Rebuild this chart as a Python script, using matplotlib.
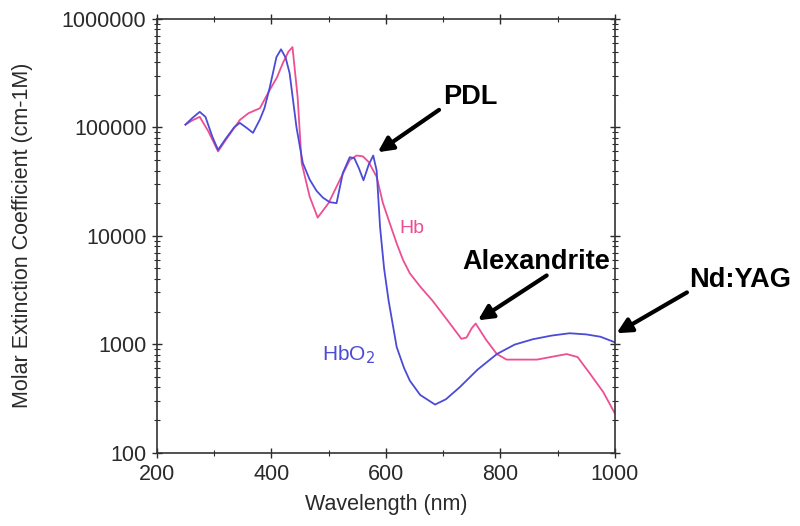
import matplotlib
matplotlib.use('Agg')
import matplotlib.pyplot as plt
from matplotlib.ticker import FixedLocator, FuncFormatter, MultipleLocator, LogLocator

plt.rcParams['font.family'] = ['Liberation Sans', 'DejaVu Sans']

# HbO2 (oxyhaemoglobin), wavelength in nm and molar extinction
hbo2_wl = [250, 262, 275, 285, 297, 307, 320, 335, 345, 358, 368, 380, 388, 397, 409,
           417, 425, 432, 444, 455, 467, 479, 490, 502, 514, 525, 537, 545, 553, 561,
           570, 578, 584, 590, 597, 605, 619, 632, 642, 660, 686, 705, 729, 760, 794,
           825, 857, 890, 921, 950, 975, 1000]
hbo2_val = [106000, 122000, 139000, 125000, 82000, 62000, 78000, 100000, 110000, 98000,
            89000, 118000, 150000, 230000, 445000, 525000, 440000, 316000, 100000, 47000,
            33000, 26000, 22500, 20400, 20000, 38000, 53000, 52000, 42000, 32500,
            45000, 55000, 40000, 12000, 5000, 2500, 940, 600, 460, 340, 277, 310, 400,
            580, 810, 990, 1110, 1200, 1260, 1230, 1170, 1040]

# Hb (deoxyhaemoglobin)
hb_wl = [250, 262, 275, 290, 307, 320, 345, 360, 380, 397, 410, 420, 430, 437, 446,
         453, 467, 481, 500, 520, 537, 549, 560, 570, 584, 595, 607, 619, 630, 642, 660,
         682, 710, 732, 741, 750, 757, 775, 794, 811, 864, 916, 935, 956, 980, 1000]
hb_val = [106000, 116000, 125000, 92000, 60000, 76000, 117000, 135000, 150000, 220000,
          290000, 390000, 500000, 550000, 190000, 47000, 23000, 14700, 20000, 33000,
          50000, 55000, 54000, 48000, 35000, 20000, 13000, 8500, 6000, 4500, 3400,
          2500, 1600, 1120, 1150, 1400, 1550, 1100, 810, 720, 720, 810, 760, 540, 360, 230]

y_ticks = [100, 1000, 10000, 100000, 1000000]
x_ticks = [200, 400, 600, 800, 1000]

blue = '#4b4bd6'
pink = '#ec4f92'
txt = '#2a2a2a'

fig = plt.figure(figsize=(8, 5.26), dpi=100)
ax = fig.add_axes([0.196, 0.1397, 0.5725, 0.8242])

ax.plot(hb_wl, hb_val, color=pink, lw=1.3)
ax.plot(hbo2_wl, hbo2_val, color=blue, lw=1.3)

ax.set_yscale('log')
ax.set_xlim(200, 1000)
ax.set_ylim(100, 1000000)
ax.xaxis.set_major_locator(FixedLocator(x_ticks))
ax.xaxis.set_minor_locator(MultipleLocator(100))
ax.yaxis.set_major_locator(FixedLocator(y_ticks))
ax.yaxis.set_minor_locator(LogLocator(base=10, subs=range(2, 10)))
ax.yaxis.set_major_formatter(FuncFormatter(lambda v, p: '%d' % v))
ax.yaxis.set_minor_formatter(FuncFormatter(lambda v, p: ''))

ax.tick_params(which='both', direction='inout', top=True, right=True,
               labelsize=15.5, colors=txt)
ax.tick_params(axis='y', pad=4)
ax.tick_params(axis='x', pad=5)
ax.tick_params(which='major', length=7, width=1)
ax.tick_params(which='minor', length=4, width=0.8)
for s in ax.spines.values():
    s.set_color('#333333')
    s.set_linewidth(1.2)

ax.set_xlabel('Wavelength (nm)', fontsize=15.5, color=txt, labelpad=6)
ax.set_ylabel('Molar Extinction Coefficient (cm-1M)', fontsize=15.5, color=txt, labelpad=21)

ax.text(645, 11700, 'Hb', color=pink, fontsize=14, ha='center', va='center')
ax.text(534, 800, 'HbO$_2$', color=blue, fontsize=15, ha='center', va='center')

arrow = dict(arrowstyle='-|>', color='black', lw=3, mutation_scale=22, shrinkA=0, shrinkB=0)
ax.annotate('', xy=(586, 59000), xytext=(693, 145000), arrowprops=arrow, annotation_clip=False)
ax.text(700, 190000, 'PDL', fontsize=19.5, fontweight='bold', ha='left', va='center', clip_on=False)

ax.annotate('', xy=(761, 1660), xytext=(881, 4300), arrowprops=arrow, annotation_clip=False)
ax.text(862, 5700, 'Alexandrite', fontsize=19.5, fontweight='bold', ha='center', va='center', clip_on=False)

ax.annotate('', xy=(1003, 1260), xytext=(1126, 3000), arrowprops=arrow, annotation_clip=False)
ax.text(1218, 3900, 'Nd:YAG', fontsize=19.5, fontweight='bold', ha='center', va='center', clip_on=False)

fig.savefig('out.png', dpi=100)
